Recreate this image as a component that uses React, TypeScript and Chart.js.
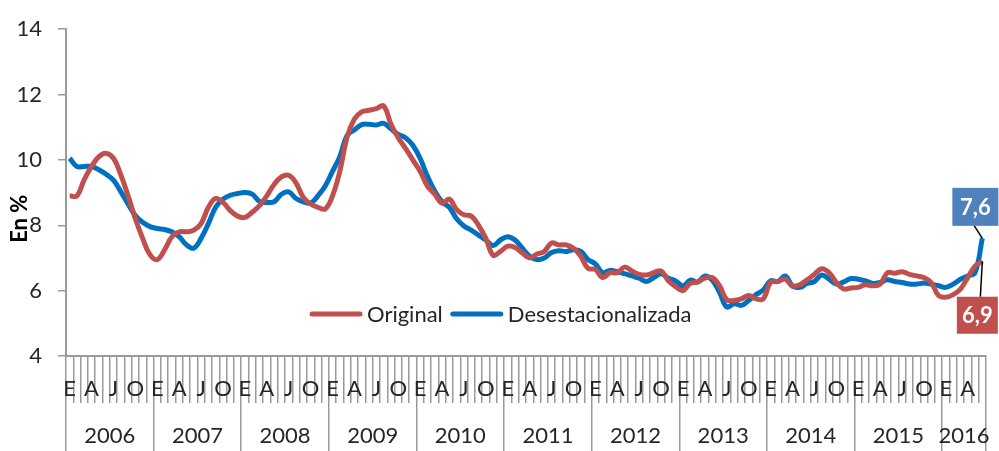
import { useEffect, useRef } from 'react';
import { Chart, registerables } from 'chart.js';

Chart.register(...registerables);

// ---- Data ----
const years = ['2006', '2007', '2008', '2009', '2010', '2011', '2012', '2013', '2014', '2015', '2016'];
const monthsPerYear = [12, 12, 12, 12, 12, 12, 12, 12, 12, 12, 6];
const monthTickLabels = ['E', '', '', 'A', '', '', 'J', '', '', 'O', '', ''];

const original = [
  // 2006
  8.9, 8.9, 9.4, 9.8, 10.1, 10.2, 10.05, 9.55, 8.9, 8.2, 7.6, 7.1,
  // 2007
  6.95, 7.25, 7.65, 7.8, 7.8, 7.85, 8.05, 8.55, 8.82, 8.7, 8.45, 8.28,
  // 2008
  8.24, 8.4, 8.6, 8.9, 9.25, 9.48, 9.53, 9.3, 8.85, 8.65, 8.55, 8.5,
  // 2009
  8.9, 9.65, 10.7, 11.25, 11.47, 11.52, 11.57, 11.65, 11.1, 10.68, 10.35, 10.0,
  // 2010
  9.65, 9.2, 8.95, 8.68, 8.8, 8.48, 8.32, 8.28, 8.0, 7.6, 7.08, 7.2,
  // 2011
  7.36, 7.32, 7.15, 7.0, 7.12, 7.2, 7.46, 7.4, 7.4, 7.3, 7.05, 6.68,
  // 2012
  6.65, 6.4, 6.55, 6.55, 6.72, 6.6, 6.5, 6.48, 6.55, 6.6, 6.3, 6.12,
  // 2013
  6.0, 6.22, 6.27, 6.38, 6.4, 6.15, 5.72, 5.7, 5.75, 5.85, 5.75, 5.75,
  // 2014
  6.25, 6.28, 6.35, 6.14, 6.18, 6.33, 6.5, 6.67, 6.55, 6.25, 6.05, 6.08,
  // 2015
  6.1, 6.18, 6.15, 6.2, 6.55, 6.53, 6.58, 6.5, 6.45, 6.4, 6.25, 5.85,
  // 2016
  5.8, 5.88, 6.05, 6.4, 6.75, 6.9,
];

const desestacionalizada = [
  // 2006
  10.05, 9.8, 9.8, 9.8, 9.7, 9.56, 9.38, 9.03, 8.65, 8.3, 8.09, 7.96,
  // 2007
  7.9, 7.87, 7.8, 7.65, 7.4, 7.3, 7.6, 8.05, 8.55, 8.8, 8.92, 8.97,
  // 2008
  9.0, 8.95, 8.73, 8.7, 8.72, 8.95, 9.02, 8.82, 8.72, 8.68, 8.9, 9.2,
  // 2009
  9.65, 10.1, 10.75, 10.92, 11.08, 11.09, 11.07, 11.12, 10.95, 10.78, 10.68, 10.45,
  // 2010
  10.05, 9.5, 9.05, 8.72, 8.55, 8.2, 7.98, 7.85, 7.7, 7.55, 7.38, 7.55,
  // 2011
  7.65, 7.55, 7.3, 7.05, 6.95, 7.0, 7.17, 7.22, 7.2, 7.25, 7.2, 6.95,
  // 2012
  6.82, 6.55, 6.62, 6.58, 6.52, 6.45, 6.38, 6.28, 6.4, 6.52, 6.38, 6.3,
  // 2013
  6.14, 6.32, 6.26, 6.45, 6.32, 5.95, 5.5, 5.6, 5.55, 5.7, 5.88, 6.02,
  // 2014
  6.3, 6.28, 6.45, 6.14, 6.1, 6.22, 6.28, 6.48, 6.35, 6.2, 6.27, 6.37,
  // 2015
  6.35, 6.3, 6.22, 6.25, 6.33, 6.28, 6.25, 6.2, 6.2, 6.23, 6.2, 6.15,
  // 2016
  6.1, 6.2, 6.35, 6.45, 6.55, 7.6,
];

const seriesNames = ['Original', 'Desestacionalizada'];
const lastValueLabels = ['6,9', '7,6'];
const yTitle = 'En %';
const yMin = 4;
const yMax = 14;
const yStep = 2;

// ---- Derived ----
const categoryLabels: string[] = [];
years.forEach((_, yi) => {
  for (let m = 0; m < monthsPerYear[yi]; m++) categoryLabels.push(monthTickLabels[m]);
});
const N = categoryLabels.length;
const yearBoundaries: number[] = [-0.5];
const yearCenters: number[] = [];
{
  let acc = 0;
  monthsPerYear.forEach((c) => {
    yearCenters.push(acc + c / 2 - 0.5);
    acc += c;
    yearBoundaries.push(acc - 0.5);
  });
}
const yearTickValues = [...yearBoundaries, ...yearCenters].sort((a, b) => a - b);
const isBoundary = (v: number) => yearBoundaries.some((b) => Math.abs(b - v) < 1e-6);
const yearLabelFor = (v: number) => {
  const i = yearCenters.findIndex((c) => Math.abs(c - v) < 1e-6);
  return i >= 0 ? years[i] : '';
};

const FONT = 'Lato, "Open Sans", sans-serif';
const TEXT = '#262626';
const GRAY = '#9a9a9a';
const RED = '#C0504D';
const BLUE = '#0070C0';
const BLUE_BOX = '#4F81BD';

const overlayPlugin = {
  id: 'overlay',
  afterDraw(chart: any) {
    const ctx = chart.ctx as CanvasRenderingContext2D;
    const area = chart.chartArea;
    ctx.save();

    // Y axis title
    ctx.save();
    ctx.translate(20, area.top + (area.bottom - area.top) * 0.58);
    ctx.rotate(-Math.PI / 2);
    ctx.font = `bold 22px ${FONT}`;
    ctx.fillStyle = '#000';
    ctx.textAlign = 'center';
    ctx.textBaseline = 'middle';
    ctx.fillText(yTitle, 0, 0);
    ctx.restore();

    // Legend inside plot
    const ly = 314;
    let lx = 312;
    ctx.font = `22px ${FONT}`;
    ctx.textBaseline = 'middle';
    ctx.textAlign = 'left';
    chart.data.datasets.forEach((ds: any) => {
      ctx.strokeStyle = ds.borderColor;
      ctx.lineWidth = 5;
      ctx.lineCap = 'round';
      ctx.beginPath();
      ctx.moveTo(lx, ly);
      ctx.lineTo(lx + 48, ly);
      ctx.stroke();
      ctx.fillStyle = TEXT;
      ctx.fillText(ds.label, lx + 55, ly + 1);
      lx += 55 + ctx.measureText(ds.label).width + 10;
    });

    // Last-value labels
    const boxes = [
      { ds: 0, color: RED, dx: -5, dy: 54, w: 41, h: 37, lineFromTop: true },
      { ds: 1, color: BLUE_BOX, dx: -7, dy: -31.5, w: 46, h: 38, lineFromTop: false },
    ];
    boxes.forEach((b) => {
      const meta = chart.getDatasetMeta(b.ds);
      const pt = meta.data[meta.data.length - 1];
      if (!pt) return;
      const cx = pt.x + b.dx;
      const cy = pt.y + b.dy;
      ctx.strokeStyle = '#000';
      ctx.lineWidth = 1.5;
      ctx.lineCap = 'butt';
      ctx.beginPath();
      if (b.lineFromTop) ctx.moveTo(pt.x - 2, cy - b.h / 2);
      else ctx.moveTo(pt.x - 8, cy + b.h / 2);
      ctx.lineTo(pt.x, pt.y);
      ctx.stroke();
      ctx.fillStyle = b.color;
      ctx.fillRect(cx - b.w / 2, cy - b.h / 2, b.w, b.h);
      ctx.fillStyle = '#fff';
      ctx.font = `bold 22px ${FONT}`;
      ctx.textAlign = 'center';
      ctx.textBaseline = 'middle';
      ctx.fillText(lastValueLabels[b.ds], cx, cy + 1);
    });

    ctx.restore();
  },
};

export default function App() {
  const canvasRef = useRef<HTMLCanvasElement | null>(null);

  useEffect(() => {
    if (!canvasRef.current) return;
    const chart = new Chart(canvasRef.current, {
      type: 'line',
      data: {
        labels: categoryLabels,
        datasets: [
          {
            label: seriesNames[0],
            data: original,
            borderColor: RED,
            backgroundColor: RED,
            borderWidth: 5,
            pointRadius: 0,
            tension: 0.4,
            fill: false,
            xAxisID: 'x',
            yAxisID: 'y',
          },
          {
            label: seriesNames[1],
            data: desestacionalizada,
            borderColor: BLUE,
            backgroundColor: BLUE,
            borderWidth: 5,
            pointRadius: 0,
            tension: 0.4,
            fill: false,
            xAxisID: 'x',
            yAxisID: 'y',
          },
        ],
      },
      options: {
        animation: false,
        responsive: false,
        devicePixelRatio: 1,
        layout: { padding: { top: 16, right: 13, left: 0, bottom: 0 } },
        plugins: {
          legend: { display: false },
          tooltip: { enabled: false },
        },
        scales: {
          x: {
            type: 'category',
            position: 'bottom',
            weight: 0,
            offset: true,
            ticks: {
              autoSkip: false,
              maxRotation: 0,
              minRotation: 0,
              padding: -27,
              font: { family: FONT, size: 22 },
              color: TEXT,
            },
            grid: {
              offset: true,
              drawOnChartArea: false,
              tickLength: 47,
              color: GRAY,
              lineWidth: 1.5,
            },
            border: { display: true, color: GRAY, width: 2 },
            afterFit: (s: any) => {
              s.height = 47;
            },
          },
          x2: {
            type: 'linear',
            position: 'bottom',
            weight: 1,
            min: -0.5,
            max: N - 0.5,
            afterBuildTicks: (s: any) => {
              s.ticks = yearTickValues.map((v) => ({ value: v }));
            },
            ticks: {
              autoSkip: false,
              maxRotation: 0,
              minRotation: 0,
              padding: -28,
              font: { family: FONT, size: 22 },
              color: TEXT,
              callback: (v: any) => yearLabelFor(Number(v)),
            },
            grid: {
              offset: false,
              drawOnChartArea: false,
              tickLength: 48,
              lineWidth: 1.5,
              color: (c: any) => (c.tick && isBoundary(c.tick.value) ? GRAY : 'rgba(0,0,0,0)'),
            },
            border: { display: false },
            afterFit: (s: any) => {
              s.height = 48;
            },
          },
          y: {
            type: 'linear',
            position: 'left',
            min: yMin,
            max: yMax,
            ticks: {
              stepSize: yStep,
              padding: 16,
              font: { family: FONT, size: 22 },
              color: TEXT,
            },
            grid: {
              drawOnChartArea: false,
              tickLength: 8,
              color: GRAY,
              lineWidth: 1.5,
            },
            border: { display: true, color: GRAY, width: 2 },
            afterFit: (s: any) => {
              s.width = 66;
            },
          },
        },
      } as any,
      plugins: [overlayPlugin],
    });
    return () => chart.destroy();
  }, []);

  return (
    <div style={{ position: 'absolute', left: 0, top: 0, width: 999, height: 451, background: '#fff' }}>
      <canvas ref={canvasRef} width={999} height={451} style={{ width: 999, height: 451, display: 'block' }} />
    </div>
  );
}
